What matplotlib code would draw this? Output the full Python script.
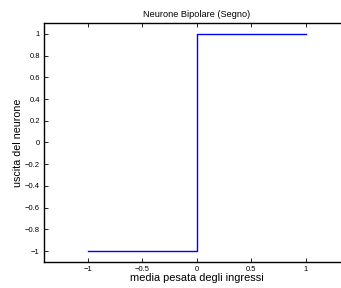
import matplotlib
matplotlib.use('Agg')
import matplotlib.pyplot as plt

# funzione segno
x = [-1, 0, 0, 1]
y = [-1, -1, 1, 1]
xticks = [-1, -0.5, 0, 0.5, 1]
yticks = [-1, -0.8, -0.6, -0.4, -0.2, 0, 0.2, 0.4, 0.6, 0.8, 1]

plt.rcParams['font.family'] = ['Liberation Sans', 'DejaVu Sans']

fig = plt.figure(figsize=(3.41, 2.88), dpi=100)
ax = fig.add_axes([0.129, 0.0903, 0.895, 0.830])
ax.plot(x, y, color='#0000ff', lw=1.0)
ax.set_xlim(-1.4, 1.4)
ax.set_ylim(-1.1, 1.1)
ax.set_xticks(xticks)
ax.set_yticks(yticks)
ax.set_xticklabels(['\u22121', '\u22120.5', '0', '0.5', '1'])
ax.set_yticklabels([('\u2212' + f'{abs(v):g}') if v < 0 else f'{v:g}'
                    for v in yticks])
ax.tick_params(direction='in', length=3, width=0.6, labelsize=5.5,
               top=True, right=True, pad=3)
for s in ax.spines.values():
    s.set_linewidth(1.0)
ax.set_title('Neurone Bipolare (Segno)', fontsize=6.6, pad=4)
ax.set_xlabel('media pesata degli ingressi', fontsize=7.9, labelpad=0)
ax.set_ylabel('uscita del neurone', fontsize=7.7, labelpad=1)

fig.savefig('out.png', dpi=100)
